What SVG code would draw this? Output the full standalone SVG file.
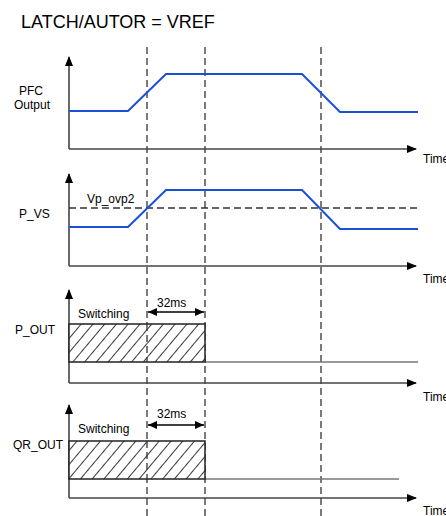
<svg xmlns="http://www.w3.org/2000/svg" width="446" height="516" viewBox="0 0 446 516">
<style>
text{font-family:"Liberation Sans",Arial,sans-serif;fill:#000}
.t{font-size:18px}
.l{font-size:12px}
.ax{stroke:#444;stroke-width:1.6;fill:none}
.sig{stroke:#1a4fd6;stroke-width:2;fill:none}
.dash{stroke:#333;stroke-width:1.3;stroke-dasharray:7,4;fill:none}
.base{stroke:#777;stroke-width:1.5;fill:none}
.box{stroke:#222;stroke-width:1.5;fill:url(#hatch)}
</style>
<defs>
<marker id="ah" markerWidth="10" markerHeight="8" refX="9" refY="4" orient="auto" markerUnits="userSpaceOnUse"><path d="M0,0L10,4L0,8z" fill="#000"/></marker>
<marker id="dah" markerWidth="9" markerHeight="8" refX="9" refY="4" orient="auto-start-reverse" markerUnits="userSpaceOnUse"><path d="M0,0L9,4L0,8z" fill="#000"/></marker>
<pattern id="hatch" patternUnits="userSpaceOnUse" width="9" height="9" patternTransform="rotate(40)"><rect width="9" height="9" fill="#fff"/><line x1="0" y1="0" x2="0" y2="9" stroke="#222" stroke-width="1.8"/></pattern>
</defs>
<text class="t" x="21" y="28">LATCH/AUTOR = VREF</text>
<g id="connectors">
<line class="dash" x1="147" y1="47" x2="147" y2="516"/>
<line class="dash" x1="205" y1="47" x2="205" y2="516"/>
<line class="dash" x1="321" y1="47" x2="321" y2="516"/>
</g>
<g id="pfc">
<line class="ax" x1="69" y1="149" x2="69" y2="57" marker-end="url(#ah)"/>
<line class="ax" x1="69" y1="149" x2="416" y2="149" marker-end="url(#ah)"/>
<polyline class="sig" points="69,111 128,111 166,74 302,74 340,112 418,112"/>
<text class="l" x="19" y="95">PFC</text>
<text class="l" x="14" y="109">Output</text>
<text class="l" x="423" y="163">Time</text>
</g>
<g id="pvs">
<line class="ax" x1="69" y1="266" x2="69" y2="174" marker-end="url(#ah)"/>
<line class="ax" x1="69" y1="266" x2="416" y2="266" marker-end="url(#ah)"/>
<line class="dash" x1="69" y1="208" x2="418" y2="208"/>
<polyline class="sig" points="69,227 128,227 166,190 302,190 340,229 418,229"/>
<text class="l" x="87" y="203">Vp_ovp2</text>
<text class="l" x="19" y="218">P_VS</text>
<text class="l" x="423" y="283">Time</text>
</g>
<g id="pout">
<line class="ax" x1="69" y1="383" x2="69" y2="290" marker-end="url(#ah)"/>
<line class="ax" x1="69" y1="383" x2="416" y2="383" marker-end="url(#ah)"/>
<line class="base" x1="205" y1="362" x2="418" y2="362"/>
<rect class="box" x="69" y="324" width="136" height="38"/>
<line class="dash" x1="147" y1="324" x2="147" y2="362"/>
<line stroke="#000" stroke-width="1.3" x1="148" y1="312" x2="204" y2="312" marker-start="url(#dah)" marker-end="url(#dah)"/>
<text class="l" x="78" y="318">Switching</text>
<text class="l" x="157" y="307">32ms</text>
<text class="l" x="15" y="334">P_OUT</text>
<text class="l" x="423" y="401">Time</text>
</g>
<g id="qrout">
<line class="ax" x1="69" y1="498" x2="69" y2="405" marker-end="url(#ah)"/>
<line class="ax" x1="69" y1="498" x2="416" y2="498" marker-end="url(#ah)"/>
<line class="base" x1="205" y1="479" x2="399" y2="479"/>
<rect class="box" x="69" y="441" width="136" height="38"/>
<line class="dash" x1="147" y1="441" x2="147" y2="479"/>
<line stroke="#000" stroke-width="1.3" x1="148" y1="425" x2="204" y2="425" marker-start="url(#dah)" marker-end="url(#dah)"/>
<text class="l" x="78" y="433">Switching</text>
<text class="l" x="157" y="418">32ms</text>
<text class="l" x="13" y="449">QR_OUT</text>
<text class="l" x="423" y="515">Time</text>
</g>
</svg>
